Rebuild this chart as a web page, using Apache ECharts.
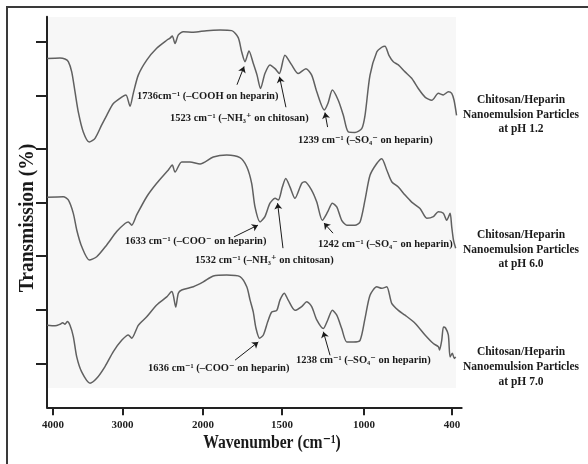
<!DOCTYPE html>
<html>
<head>
<meta charset="utf-8">
<script src="https://cdn.jsdelivr.net/npm/echarts@6/dist/echarts.min.js"></script>
<style>
  html, body { margin: 0; padding: 0; background: #fff; }
  #main { width: 588px; height: 464px; }
</style>
</head>
<body>
<div id="main"></div>
<script>
// spectra: wavenumber (cm-1) and transmission (arbitrary units, stacked)
var wnA = [4085,3900,3828,3780,3731,3684,3636,3565,3478,3396,3300,3228,3133,3013,2958,2908,2867,2805,2700,2576,2451,2410,2382,2348,2307,2245,2120,1977,1892,1818,1777,1755,1734,1709,1682,1658,1636,1608,1576,1544,1517,1482,1441,1401,1354,1319,1288,1242,1219,1193,1157,1126,1096,1055,1014,993,959,913,879,857,830,800,766,720,675,630,584,538,493,459,425,402,386,369];
var trA = [66.9,67.0,66.8,66.3,64.4,60.7,56.9,53.2,51.3,52.0,54.5,56.3,58.5,59.7,60.1,58.0,60.4,63.8,66.6,68.8,70.3,70.7,71.1,69.7,71.3,71.9,71.8,72.1,72.2,72.1,70.8,68.1,66.3,68.3,66.0,63.8,61.3,64.1,65.7,65.0,64.1,67.5,65.7,64.1,65.0,63.8,60.7,57.3,58.6,61.0,59.1,56.3,53.2,53.1,53.8,56.3,63.8,68.1,69.0,69.2,67.5,66.3,65.7,64.4,63.2,61.3,59.7,59.1,60.4,60.1,60.7,60.4,59.1,56.3];

var wnB = [4085,3852,3780,3708,3659,3588,3478,3372,3228,3085,2970,2929,2887,2825,2700,2576,2431,2382,2348,2265,2162,2037,1935,1850,1766,1723,1692,1671,1639,1608,1576,1544,1523,1498,1477,1451,1421,1380,1360,1319,1288,1254,1221,1193,1166,1136,1105,1055,1024,993,959,913,879,845,811,766,720,675,618,572,527,493,459,436,413,402,390,375];
var trB = [41.0,41.1,40.5,38.0,34.9,31.8,29.3,29.9,32.1,34.6,36.1,36.4,35.8,37.7,41.1,43.6,46.1,47.0,45.7,47.6,47.6,47.2,48.5,48.9,48.4,46.7,43.6,39.2,36.4,37.4,39.9,40.8,40.5,42.9,44.5,42.9,40.8,43.6,43.9,42.3,40.1,36.7,38.3,39.9,39.2,36.7,35.8,35.8,36.4,40.5,45.1,47.3,48.2,46.1,43.9,42.9,41.4,40.1,38.9,37.1,37.4,38.3,38.0,36.7,38.0,35.5,33.0,31.5];

var wnC = [4085,3971,3899,3861,3828,3795,3756,3708,3659,3588,3468,3372,3253,3133,3013,2929,2887,2805,2700,2576,2451,2389,2369,2339,2307,2265,2120,1998,1935,1850,1766,1723,1702,1682,1665,1642,1618,1590,1565,1533,1513,1486,1462,1421,1380,1349,1319,1288,1248,1221,1193,1166,1136,1105,1065,1024,993,959,913,879,845,811,766,720,652,584,527,493,485,470,458,444,425,413,398,384,375];
var trC = [17.1,17.0,17.3,17.6,17.3,17.8,17.1,15.0,11.2,8.4,6.3,7.2,9.4,12.2,14.3,15.3,14.7,17.1,18.7,20.9,22.4,23.4,22.7,20.5,23.1,23.7,24.3,25.2,26.3,26.5,26.2,24.3,21.8,19.6,16.6,14.7,15.3,17.8,19.6,19.9,21.8,23.1,21.8,19.9,20.6,21.5,20.6,18.1,16.5,18.1,19.9,19.0,16.5,14.0,14.0,14.3,18.4,22.7,24.3,24.0,24.3,21.2,19.9,19.0,17.5,15.3,13.7,13.1,12.5,14.3,16.8,16.6,15.3,11.2,11.9,10.9,11.2];

var seriesNames = ['pH 1.2', 'pH 6.0', 'pH 7.0'];
var tickLabels = ['4000', '3000', '2000', '1500', '1000', '400'];
var yTicks = [10, 20, 30, 40, 50, 60, 70];

// arrows: [from wn, from tr, to wn, to tr]
var arrowsA = [[1785, 62.0, 1740, 65.4], [1476, 57.8, 1516, 63.5], [1222, 54.1, 1238, 56.8]];
var arrowsB = [[1804, 33.6, 1652, 35.8], [1494, 31.5, 1528, 39.9], [1189, 34.3, 1244, 36.2]];
var arrowsC = [[1797, 10.6, 1650, 14.0], [1207, 11.5, 1248, 15.9]];

// the wavenumber axis is not linear (expanded below 2000), so map it piecewise
var wnBreaks = [4000, 3000, 2000, 1500, 1000, 400];
var axBreaks = [6, 75.6, 156, 235, 317, 405];
function toAxis(w) {
    var i = 0;
    while (i < wnBreaks.length - 2 && w < wnBreaks[i + 1]) i++;
    var t = (w - wnBreaks[i]) / (wnBreaks[i + 1] - wnBreaks[i]);
    return axBreaks[i] + t * (axBreaks[i + 1] - axBreaks[i]);
}
function labelFor(v) {
    for (var i = 0; i < axBreaks.length; i++) {
        if (Math.abs(axBreaks[i] - v) < 0.01) return tickLabels[i];
    }
    return '';
}

var serif = '"Liberation Serif", "DejaVu Serif", serif';
var ink = '#1a1a1a';

function makeSeries(name, wn, tr, arrows) {
    var pts = [];
    for (var i = 0; i < wn.length; i++) pts.push([toAxis(wn[i]), tr[i]]);
    var lines = arrows.map(function (a) {
        return [{ coord: [toAxis(a[0]), a[1]] }, { coord: [toAxis(a[2]), a[3]] }];
    });
    return {
        name: name,
        type: 'line',
        data: pts,
        showSymbol: false,
        smooth: 0.25,
        lineStyle: { color: '#606060', width: 1.5 },
        markLine: {
            silent: true,
            symbol: ['none', 'arrow'],
            symbolSize: 6,
            label: { show: false },
            lineStyle: { color: ink, width: 1, type: 'solid' },
            data: lines
        }
    };
}

function note(text, x, y) {
    return {
        type: 'text', x: x, y: y, silent: true,
        style: { text: text, font: 'bold 10.5px ' + serif, fill: ink, align: 'left', verticalAlign: 'middle' }
    };
}
function sideLabel(ph, y) {
    return {
        type: 'text', x: 521, y: y, scaleY: 1.12, silent: true,
        style: {
            text: 'Chitosan/Heparin\nNanoemulsion Particles\nat ' + ph,
            font: 'bold 11.5px ' + serif, lineHeight: 13, fill: ink,
            align: 'center', verticalAlign: 'middle'
        }
    };
}

var chart = echarts.init(document.getElementById('main'));
var option = {
    animation: false,
    backgroundColor: '#fff',
    grid: { left: 47, right: 126.3, top: 16.7, bottom: 56.7 },
    xAxis: {
        type: 'value',
        min: 0,
        max: 414.7,
        axisLine: { lineStyle: { color: '#222', width: 2 } },
        axisTick: { show: true, customValues: axBreaks, length: 8, lineStyle: { color: '#222', width: 2 } },
        axisLabel: {
            customValues: axBreaks, formatter: labelFor,
            color: '#222', fontFamily: serif, fontWeight: 'bold', fontSize: 11, margin: 12
        },
        splitLine: { show: false }
    },
    yAxis: {
        type: 'value',
        min: 1.8,
        max: 74.7,
        axisLine: { show: true, lineStyle: { color: '#222', width: 2 } },
        axisTick: { show: true, customValues: yTicks, length: 11, lineStyle: { color: '#222', width: 2 } },
        axisLabel: { show: false },
        splitLine: { show: false }
    },
    graphic: [
        { type: 'rect', z: -10, silent: true, shape: { x: 48, y: 17, width: 408, height: 371 }, style: { fill: '#f7f7f7' } },
        { type: 'rect', silent: true, shape: { x: 7, y: 7, width: 700, height: 700 }, style: { fill: 'none', stroke: '#3a3a3a', lineWidth: 2 } },
        {
            type: 'text', x: 27, y: 218, rotation: Math.PI / 2, scaleY: 1.1, silent: true,
            style: { text: 'Transmission (%)', font: 'bold 19.5px ' + serif, fill: ink, align: 'center', verticalAlign: 'middle' }
        },
        {
            type: 'text', x: 272, y: 443, scaleX: 0.92, scaleY: 1.15, silent: true,
            style: { text: 'Wavenumber (cm\u207B\u00B9)', font: 'bold 17px ' + serif, fill: ink, align: 'center', verticalAlign: 'middle' }
        },
        note('1736cm\u207B\u00B9 (\u2013COOH on heparin)', 137, 96),
        note('1523 cm\u207B\u00B9 (\u2013NH\u2083\u207A on chitosan)', 170, 118),
        note('1239 cm\u207B\u00B9 (\u2013SO\u2084\u207B on heparin)', 298, 140),
        note('1633 cm\u207B\u00B9 (\u2013COO\u207B on heparin)', 125, 241),
        note('1532 cm\u207B\u00B9 (\u2013NH\u2083\u207A on chitosan)', 195, 260),
        note('1242 cm\u207B\u00B9 (\u2013SO\u2084\u207B on heparin)', 318, 244),
        note('1636 cm\u207B\u00B9 (\u2013COO\u207B on heparin)', 148, 368),
        note('1238 cm\u207B\u00B9 (\u2013SO\u2084\u207B on heparin)', 296, 360),
        sideLabel('pH 1.2', 114.3),
        sideLabel('pH 6.0', 249.5),
        sideLabel('pH 7.0', 366.7)
    ],
    series: [
        makeSeries(seriesNames[0], wnA, trA, arrowsA),
        makeSeries(seriesNames[1], wnB, trB, arrowsB),
        makeSeries(seriesNames[2], wnC, trC, arrowsC)
    ]
};
chart.setOption(option);
</script>
</body>
</html>
